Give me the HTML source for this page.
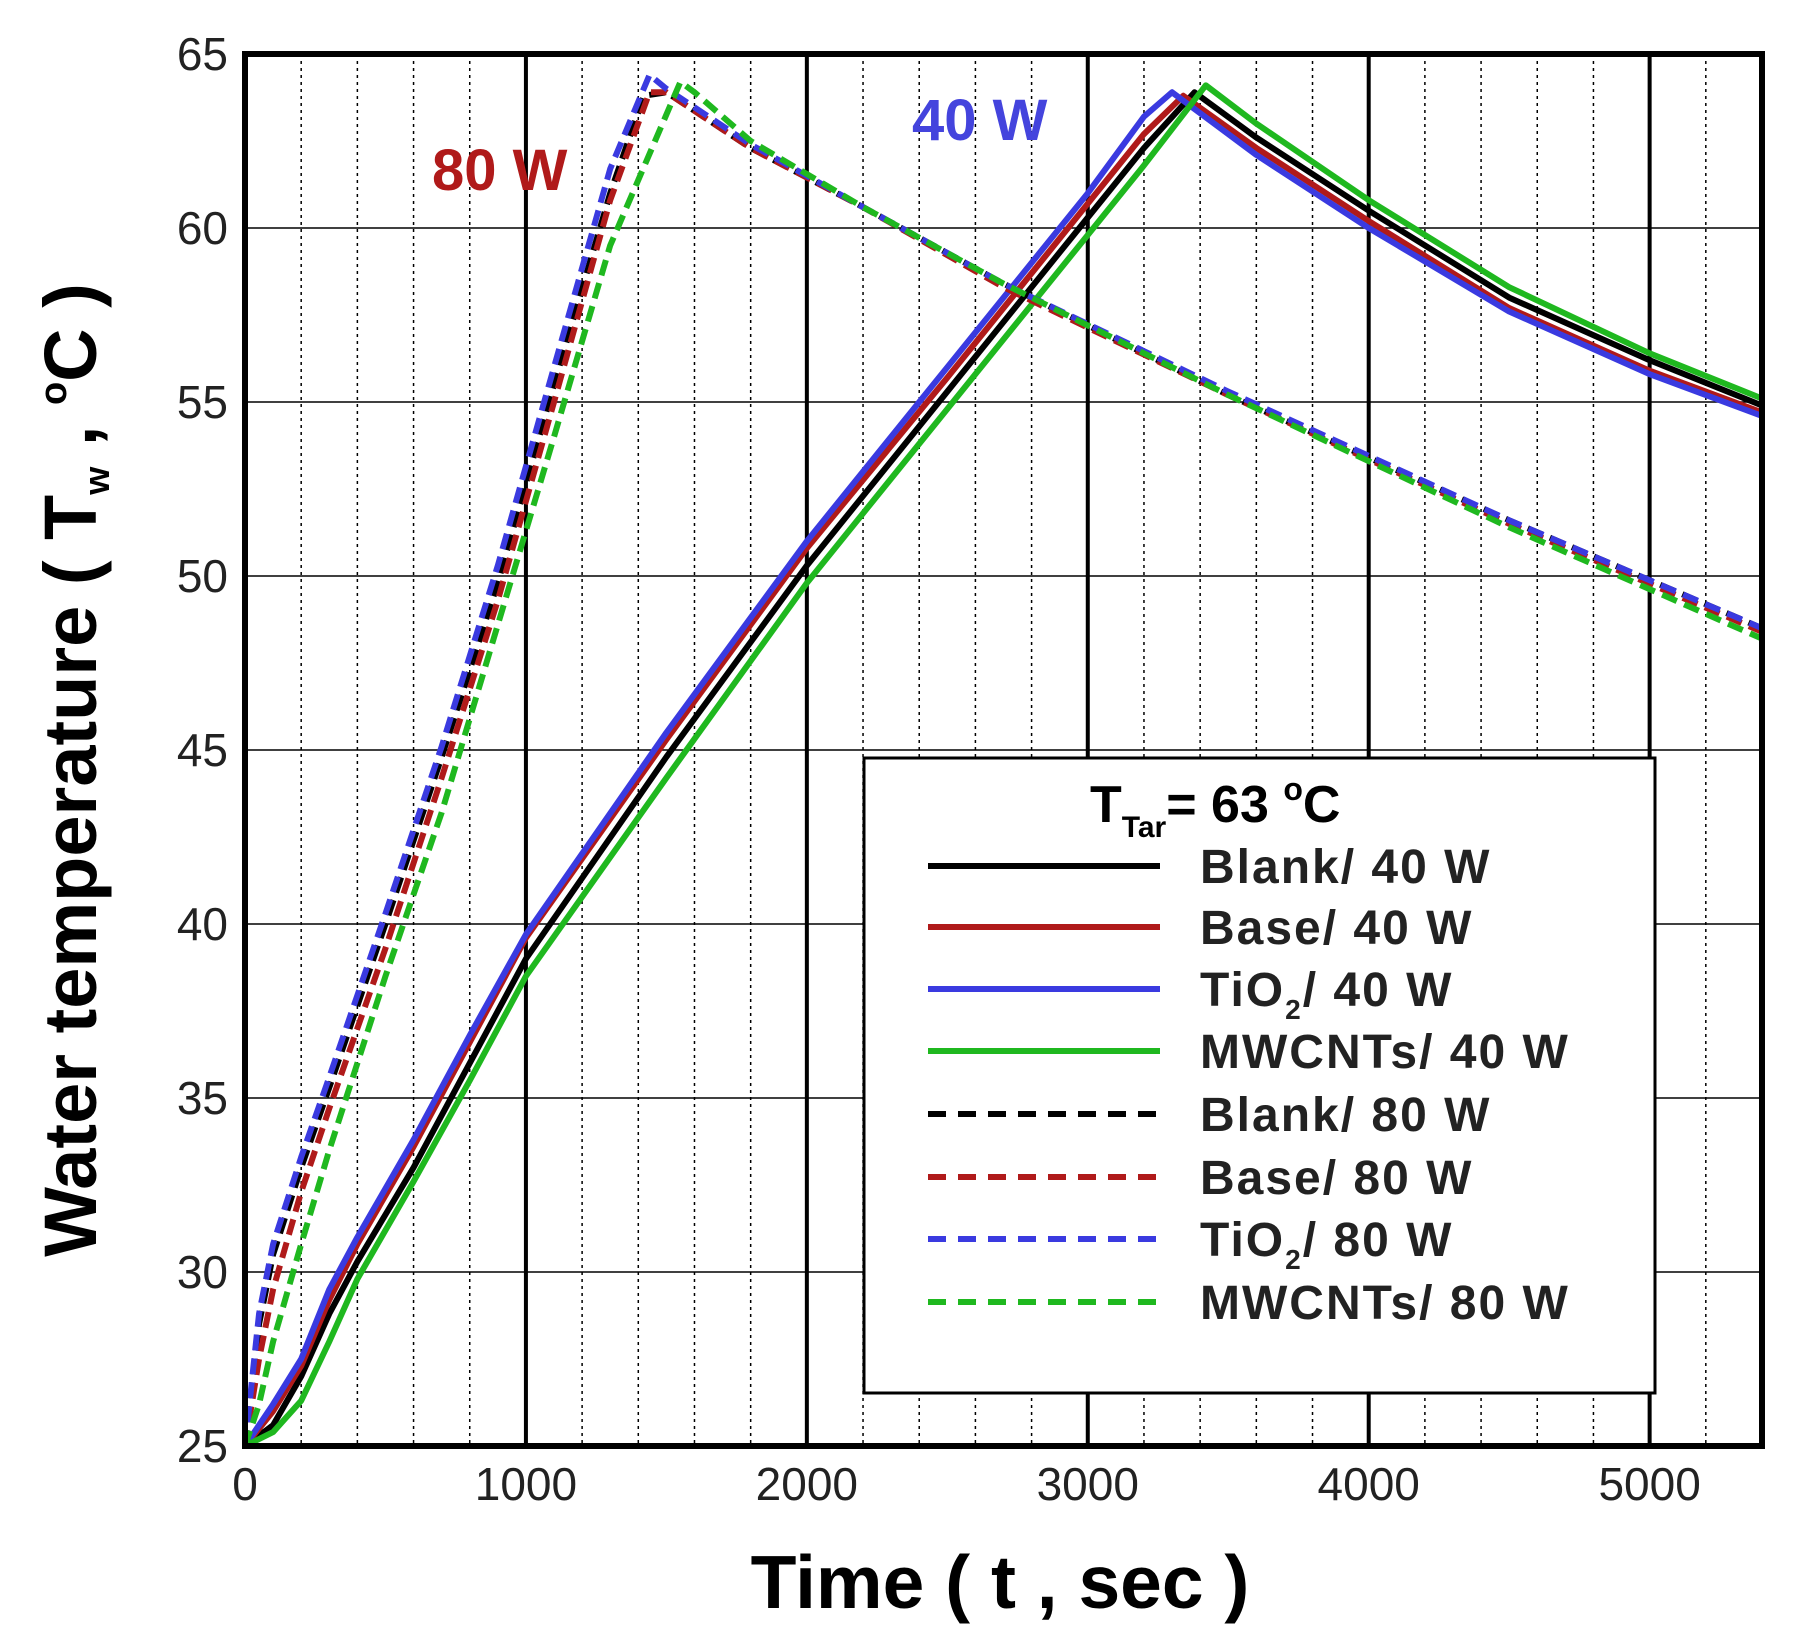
<!DOCTYPE html>
<html><head><meta charset="utf-8"><style>
html,body{margin:0;padding:0;background:#fff;}
svg{display:block;font-family:"Liberation Sans",Arial,sans-serif;}
</style></head><body>
<svg id="chart" width="1793" height="1634" viewBox="0 0 1793 1634">
<g id="grid"></g>
<g id="series"></g>
<g id="axes"></g>
<text x="1000" y="1608" font-size="75" font-weight="bold" text-anchor="middle">Time ( t , sec )</text>
<text transform="translate(96,770) rotate(-90)" font-size="74" font-weight="bold" text-anchor="middle">Water temperature ( T<tspan font-size="36" dy="13">w</tspan><tspan dy="-13"> , </tspan><tspan font-size="38" dy="-30">o</tspan><tspan dy="30">C )</tspan></text>
<text x="432" y="190" font-size="58" font-weight="bold" fill="#b01a1a">80 W</text>
<text x="912" y="140" font-size="58" font-weight="bold" fill="#4444dd">40 W</text>
<g id="legend">
<rect x="864" y="758" width="791" height="635" fill="#fff" stroke="#000" stroke-width="3"/>
<text x="1090" y="822" font-size="52" font-weight="bold">T<tspan font-size="30" dy="15">Tar</tspan><tspan dy="-15">= 63 </tspan><tspan font-size="32" dy="-22">o</tspan><tspan dy="22">C</tspan></text>
</g>
</svg>
<script>
const xTicks=[0,1000,2000,3000,4000,5000];
const yTicks=[25,30,35,40,45,50,55,60,65];
const seriesNames=["Blank/ 40 W","Base/ 40 W","TiO2/ 40 W","MWCNTs/ 40 W","Blank/ 80 W","Base/ 80 W","TiO2/ 80 W","MWCNTs/ 80 W"];
const seriesColors=["#000000","#b01a1a","#3a3ae0","#1fb81f","#000000","#b01a1a","#3a3ae0","#1fb81f"];
const tBlank40=[0,100,200,300,400,600,800,1000,1500,2000,2500,3000,3200,3380,3600,4000,4500,5000,5400];
const vBlank40=[25,25.6,27,28.8,30.3,33,36,39,44.8,50.3,55.3,60.3,62.3,63.9,62.6,60.5,58,56.2,54.9];
const tBase40=[0,100,200,300,400,600,800,1000,1500,2000,2500,3000,3200,3340,3600,4000,4500,5000,5400];
const vBase40=[25,26,27.3,29.2,30.8,33.6,36.6,39.6,45.3,50.8,55.7,60.7,62.7,63.8,62.3,60.2,57.7,55.9,54.7];
const tTiO240=[0,100,200,300,400,600,800,1000,1500,2000,2500,3000,3200,3300,3600,4000,4500,5000,5400];
const vTiO240=[25,26.2,27.5,29.5,31,33.8,36.8,39.7,45.5,51,56,61,63.2,63.9,62.1,60,57.6,55.8,54.6];
const tMW40=[0,100,200,300,400,600,800,1000,1500,2000,2500,3000,3200,3420,3600,4000,4500,5000,5400];
const vMW40=[25,25.4,26.3,28,29.8,32.6,35.5,38.5,44.2,49.8,54.8,59.8,61.8,64.1,63,60.8,58.3,56.4,55.1];
const tBlank80=[0,50,100,200,300,500,700,900,1100,1300,1420,1500,1800,2200,2700,3500,4500,5400];
const vBlank80=[25,28.5,30.5,33,35.3,40,44.8,49.8,55.5,61,63.8,63.9,62.3,60.6,58.4,55.2,51.6,48.5];
const tBase80=[0,50,100,200,300,500,700,900,1100,1300,1440,1500,1800,2200,2700,3500,4500,5400];
const vBase80=[25,27.5,29.5,32.3,34.7,39.3,44.2,49.3,55,60.8,63.9,63.9,62.3,60.6,58.3,55.2,51.5,48.4];
const tTiO280=[0,50,100,200,300,500,700,900,1100,1300,1440,1500,1800,2200,2700,3500,4500,5400];
const vTiO280=[25,28.8,30.8,33.3,35.6,40.3,45.1,50.3,56,61.7,64.4,64,62.4,60.6,58.4,55.3,51.6,48.5];
const tMW80=[0,50,100,200,300,500,700,900,1100,1300,1550,1600,1800,2200,2700,3500,4500,5400];
const vMW80=[25,26.2,28,30.8,33.5,38.5,43.2,48.6,54,59.5,64.2,63.9,62.5,60.6,58.4,55.2,51.4,48.2];
const allT=[tBlank40,tBase40,tTiO240,tMW40,tBlank80,tBase80,tTiO280,tMW80];
const allV=[vBlank40,vBase40,vTiO240,vMW40,vBlank80,vBase80,vTiO280,vMW80];

const NS="http://www.w3.org/2000/svg";
const X0=245,X1=1762,Y0=1446,Y1=54,XMAX=5400;
const sx=t=>X0+(t/XMAX)*(X1-X0);
const sy=v=>Y0-(v-25)/40*(Y0-Y1);
function mk(tag,parent){const e=document.createElementNS(NS,tag);parent.appendChild(e);return e;}
const grid=document.getElementById('grid'),axes=document.getElementById('axes'),ser=document.getElementById('series');
for(let t=200;t<XMAX;t+=200){
  const major=t%1000===0;
  const l=mk('line',grid);
  
  
  l.setAttribute('x1',sx(t));l.setAttribute('x2',sx(t));l.setAttribute('y1',Y1);l.setAttribute('y2',Y0);
  l.setAttribute('stroke','#000');l.setAttribute('stroke-width',major?4:1.5);
  if(!major)l.setAttribute('stroke-dasharray','3,4');
}
yTicks.forEach(v=>{
  const l=mk('line',grid);
  
  
  l.setAttribute('x1',X0);l.setAttribute('x2',X1);l.setAttribute('y1',sy(v));l.setAttribute('y2',sy(v));
  l.setAttribute('stroke','#000');l.setAttribute('stroke-width',1.5);
  const tx=mk('text',axes);
  
  
  tx.setAttribute('x',228);tx.setAttribute('y',sy(v)+16);tx.setAttribute('font-size',46);tx.setAttribute('text-anchor','end');tx.setAttribute('fill','#222');
  tx.textContent=v;
});
xTicks.forEach(t=>{
  const tx=mk('text',axes);
  
  
  tx.setAttribute('x',sx(t));tx.setAttribute('y',1500);tx.setAttribute('font-size',46);tx.setAttribute('text-anchor','middle');tx.setAttribute('fill','#222');
  tx.textContent=t;
});
allT.forEach((ts,i)=>{
  const p=mk('polyline',ser);
  
  
  p.setAttribute('points',ts.map((t,j)=>sx(t)+','+sy(allV[i][j])).join(' '));
  p.setAttribute('fill','none');p.setAttribute('stroke',seriesColors[i]);p.setAttribute('stroke-width',6);
  p.setAttribute('stroke-linejoin','round');
  if(i>=4)p.setAttribute('stroke-dasharray','16,8');
});
const fr=mk('rect',axes);


fr.setAttribute('x',X0);fr.setAttribute('y',Y1);fr.setAttribute('width',X1-X0);fr.setAttribute('height',Y0-Y1);
fr.setAttribute('fill','none');fr.setAttribute('stroke','#000');fr.setAttribute('stroke-width',6);
const lg=document.getElementById('legend');
const lgY=[866,927,989,1051,1114,1177,1239,1302];
seriesNames.forEach((n,i)=>{
  const l=mk('line',lg);
  
  
  l.setAttribute('x1',928);l.setAttribute('x2',1160);l.setAttribute('y1',lgY[i]);l.setAttribute('y2',lgY[i]);
  l.setAttribute('stroke',seriesColors[i]);l.setAttribute('stroke-width',6);
  if(i>=4)l.setAttribute('stroke-dasharray','18,12');
  const tx=mk('text',lg);
  
  
  tx.setAttribute('x',1200);tx.setAttribute('y',lgY[i]+17);tx.setAttribute('font-size',48);tx.setAttribute('font-weight','bold');tx.setAttribute('fill','#222');tx.setAttribute('letter-spacing','2');
  if(n.startsWith('TiO2')){
    tx.appendChild(document.createTextNode('TiO'));
    const s=mk('tspan',tx);s.setAttribute('font-size',28);s.setAttribute('dy',13);s.textContent='2';
    const r=mk('tspan',tx);r.setAttribute('dy',-13);r.textContent=n.slice(4);
  } else tx.textContent=n;
});
</script>
</body></html>
